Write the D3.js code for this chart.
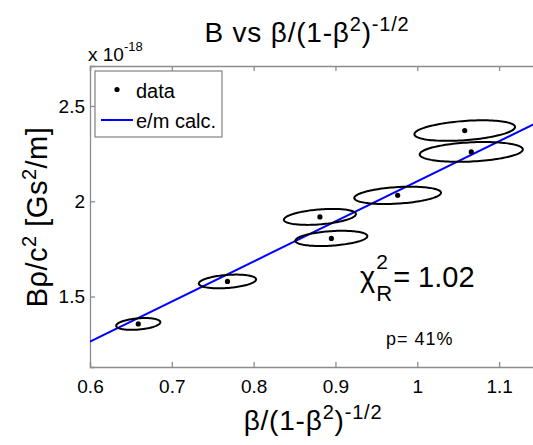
<!DOCTYPE html>
<html>
<head>
<meta charset="utf-8">
<script src="https://cdn.jsdelivr.net/npm/d3@7"></script>
<style>
  body { margin: 0; background: #fff; }
  text { font-family: "Liberation Sans", Arial, sans-serif; fill: #000; }
</style>
</head>
<body>
<div id="chart"></div>
<script>
// data (y in units of 1e-18)
const xVals = [0.659, 0.768, 0.881, 0.895, 0.976, 1.058, 1.066];
const yVals = [1.356, 1.579, 1.918, 1.805, 2.031, 2.371, 2.259];
const xErr = [0.027, 0.035, 0.044, 0.044, 0.053, 0.0615, 0.063];
const yErr = [0.031, 0.036, 0.042, 0.040, 0.0455, 0.054, 0.052];
const rho = [0.3, 0.3, 0.35, 0.3, 0.3, 0.35, 0.25];
const emSlope = 2.105; // e/m calc. line, y = k * x
const xTicks = [0.6, 0.7, 0.8, 0.9, 1, 1.1];
const yTicks = [1.5, 2, 2.5];
const chi2 = "1.02";
const pVal = "41%";

const W = 533, H = 445;
const svg = d3.select("#chart").append("svg")
    .attr("width", W)
    .attr("height", H);

const x = d3.scaleLinear().domain([0.6, 1.15]).range([90, 540]);
const y = d3.scaleLinear().domain([1.13, 2.71]).range([367, 66]);

svg.append("defs").append("clipPath").attr("id", "clip")
    .append("rect")
    .attr("x", 90).attr("y", 66)
    .attr("width", 450).attr("height", 301);

// axes box + ticks (inward, also on top)
const axCol = "#8c8c8c";
const xAxB = d3.axisBottom(x).tickValues(xTicks).tickSize(-5).tickPadding(13).tickFormat(d3.format("~g"));
const xAxT = d3.axisTop(x).tickValues(xTicks).tickSize(-5).tickFormat("");
const yAxL = d3.axisLeft(y).tickValues(yTicks).tickSize(-5).tickPadding(5).tickFormat(d3.format("~g"));

const gx = svg.append("g").attr("transform", "translate(0,367)").call(xAxB);
const gt = svg.append("g").attr("transform", "translate(0,66)").call(xAxT);
const gy = svg.append("g").attr("transform", "translate(90,0)").call(yAxL);
[gx, gt, gy].forEach(g => {
    g.selectAll("path").attr("stroke", axCol).attr("stroke-width", 1.3);
    g.selectAll("line").attr("stroke", axCol).attr("stroke-width", 1.3);
    g.selectAll("text").style("font-size", "19px").attr("fill", "#000");
});

const plot = svg.append("g").attr("clip-path", "url(#clip)");

// fit line
plot.append("line")
    .attr("x1", x(0.6)).attr("y1", y(emSlope * 0.6))
    .attr("x2", x(1.15)).attr("y2", y(emSlope * 1.15))
    .attr("stroke", "#0000ff")
    .attr("stroke-width", 2);

// error ellipses
const pts = xVals.map((v, i) => ({ x: v, y: yVals[i], ex: xErr[i], ey: yErr[i], r: rho[i] }));
const ellLine = d3.line().x(d => x(d[0])).y(d => y(d[1])).curve(d3.curveLinearClosed);
plot.selectAll(".ell")
    .data(pts)
    .enter().append("path")
    .attr("class", "ell")
    .attr("d", d => {
        const ring = d3.range(0, 2 * Math.PI, Math.PI / 60).map(t => [
            d.x + d.ex * Math.cos(t),
            d.y + d.ey * (d.r * Math.cos(t) + Math.sqrt(1 - d.r * d.r) * Math.sin(t))
        ]);
        return ellLine(ring);
    })
    .attr("fill", "none")
    .attr("stroke", "#000")
    .attr("stroke-width", 2);

plot.selectAll(".dot")
    .data(pts)
    .enter().append("circle")
    .attr("cx", d => x(d.x))
    .attr("cy", d => y(d.y))
    .attr("r", 2.6)
    .attr("fill", "#000");

// legend
const lg = svg.append("g");
lg.append("rect")
    .attr("x", 95).attr("y", 71)
    .attr("width", 127).attr("height", 66)
    .attr("fill", "#fff")
    .attr("stroke", axCol)
    .attr("stroke-width", 1.3);
lg.append("circle").attr("cx", 117).attr("cy", 89.5).attr("r", 2.6).attr("fill", "#000");
lg.append("text").attr("x", 136).attr("y", 97.5).style("font-size", "20px").text("data");
lg.append("line")
    .attr("x1", 101).attr("x2", 133)
    .attr("y1", 120).attr("y2", 120)
    .attr("stroke", "#0000ff").attr("stroke-width", 2);
lg.append("text").attr("x", 136).attr("y", 128).style("font-size", "20px").text("e/m calc.");

// exponent label
const ex = svg.append("text").attr("x", 88).attr("y", 61).style("font-size", "19px");
ex.append("tspan").text("x 10");
ex.append("tspan").attr("dy", -10).style("font-size", "13px").text("-18");

// helper for labels with superscripts: parts = [text, isSup]
function supText(sel, parts, big, small, rise) {
    parts.forEach(([t, sup], i) => {
        const prevSup = i > 0 && parts[i - 1][1];
        const dy = sup && !prevSup ? -rise : (!sup && prevSup ? rise : 0);
        sel.append("tspan").attr("dy", dy).style("font-size", (sup ? small : big) + "px").text(t);
    });
}

// title
const title = svg.append("text")
    .attr("x", 307).attr("y", 42)
    .attr("text-anchor", "middle")
    .style("letter-spacing", "0.8px");
supText(title, [["B vs β/(1-β", false], ["2", true], [")", false], ["-1/2", true]], 28, 20, 11);

// x label
const xl = svg.append("text")
    .attr("x", 313).attr("y", 430)
    .attr("text-anchor", "middle")
    .style("letter-spacing", "0.8px");
supText(xl, [["β/(1-β", false], ["2", true], [")", false], ["-1/2", true]], 28, 20, 11);

// y label
const yl = svg.append("text")
    .attr("transform", "translate(47,217) rotate(-90)")
    .attr("text-anchor", "middle")
    .style("letter-spacing", "0.5px");
supText(yl, [["Bρ/c", false], ["2", true], [" [Gs", false], ["2", true], ["/m]", false]], 29, 20, 11);

// chi2 annotation
const cx0 = 360, cy0 = 287;
const chi = svg.append("text").attr("x", cx0).attr("y", cy0).style("font-size", "29px").text("χ");
const cw = chi.node().getComputedTextLength();
const s2 = svg.append("text").attr("x", cx0 + cw + 1).attr("y", cy0 - 18).style("font-size", "21px").text("2");
const sR = svg.append("text").attr("x", cx0 + cw + 1).attr("y", cy0 + 14).style("font-size", "22px").text("R");
const sw = Math.max(s2.node().getComputedTextLength(), sR.node().getComputedTextLength());
svg.append("text").attr("x", cx0 + cw + sw + 2).attr("y", cy0).style("font-size", "29px").text("= " + chi2);

svg.append("text").attr("x", 386).attr("y", 345)
    .style("font-size", "18px").style("letter-spacing", "1px")
    .text("p= " + pVal);
</script>
</body>
</html>
